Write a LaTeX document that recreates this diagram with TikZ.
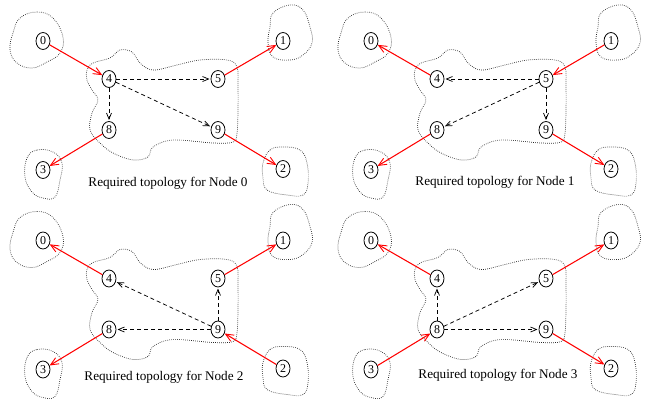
\documentclass[tikz,border=0pt]{standalone}
\usepackage{fontspec}
\setmainfont{Liberation Serif}
\usetikzlibrary{shapes.geometric,arrows.meta}
\tikzset{
  nd/.style={draw, ellipse, line width=0.8pt, minimum width=14pt, minimum height=17pt, inner sep=0pt, font=\fontsize{12}{13}\selectfont},
  blob/.style={line width=0.7pt, black!85, dash pattern=on 0.7pt off 1.3pt},
  redarr/.style={draw=red, line width=1.05pt, -{Straight Barb[length=8pt,width=7pt,line width=0.9pt]}},
  dasharr/.style={draw=black, line width=0.75pt, dash pattern=on 4pt off 3pt, -{Straight Barb[length=6pt,width=5pt,line width=0.75pt,sep]}},
  captext/.style={font=\fontsize{13.2}{15}\selectfont}
}
\newcommand\mypanel[3]{%
\begin{scope}[shift={(#1,#2)}]
  \draw[blob] plot[smooth cycle, tension=0.7] coordinates {(20,18) (37,12) (53,18) (63,37) (60,53) (47,62) (32,68) (17,63) (10,50) (13,33)};
  \draw[blob] plot[smooth cycle, tension=0.7] coordinates {(273,13) (290,5) (303,10) (310,27) (312,43) (303,55) (290,60) (273,57) (268,43) (270,27)};
  \draw[blob] plot[smooth cycle, tension=0.7] coordinates {(27,158) (37,150) (53,152) (62,163) (60,180) (55,197) (43,198) (32,192) (25,177)};
  \draw[blob] plot[smooth cycle, tension=0.7] coordinates {(263,163) (270,150) (283,147) (300,150) (307,163) (308,183) (303,195) (287,195) (267,190) (263,177)};
  \draw[blob] plot[smooth cycle, tension=0.6] coordinates {(87,70) (93,63) (110,58) (120,50) (132,52) (140,63) (153,70) (177,65) (200,60) (227,60) (237,67) (238,87) (238,110) (237,133) (233,142) (213,143) (173,140) (153,147) (148,157) (133,160) (113,153) (100,143) (90,130) (92,113) (98,100) (92,90) (87,80)};
  \node[nd] (#3-0) at (43,41) {0};
  \node[nd] (#3-1) at (283,41) {1};
  \node[nd] (#3-2) at (283,169) {2};
  \node[nd] (#3-3) at (43,170) {3};
  \node[nd] (#3-4) at (109,79) {4};
  \node[nd] (#3-5) at (218,79) {5};
  \node[nd] (#3-8) at (109,130) {8};
  \node[nd] (#3-9) at (218,130) {9};
\end{scope}}
\begin{document}
\begin{tikzpicture}[x=1pt,y=-1pt]
\useasboundingbox (0,0) rectangle (654,399);
\mypanel{0}{0}{A}
\mypanel{328}{0}{B}
\mypanel{0}{199.5}{C}
\mypanel{328}{199.5}{D}
% panel A
\draw[redarr] (A-0) -- (A-4);
\draw[redarr] (A-5) -- (A-1);
\draw[redarr] (A-8) -- (A-3);
\draw[redarr] (A-9) -- (A-2);
\draw[dasharr] (A-4) -- (A-5);
\draw[dasharr] (A-4) -- (A-9);
\draw[dasharr] (A-4) -- (A-8);
\node[captext] (capA) at (168,183) {Required topology for Node 0};
% panel B
\draw[redarr] (B-4) -- (B-0);
\draw[redarr] (B-1) -- (B-5);
\draw[redarr] (B-8) -- (B-3);
\draw[redarr] (B-9) -- (B-2);
\draw[dasharr] (B-5) -- (B-4);
\draw[dasharr] (B-5) -- (B-8);
\draw[dasharr] (B-5) -- (B-9);
\node[captext] (capB) at (495,182) {Required topology for Node 1};
% panel C
\draw[redarr] (C-4) -- (C-0);
\draw[redarr] (C-5) -- (C-1);
\draw[redarr] (C-8) -- (C-3);
\draw[redarr] (C-2) -- (C-9);
\draw[dasharr] (C-9) -- (C-4);
\draw[dasharr] (C-9) -- (C-5);
\draw[dasharr] (C-9) -- (C-8);
\node[captext] (capC) at (164,377) {Required topology for Node 2};
% panel D
\draw[redarr] (D-4) -- (D-0);
\draw[redarr] (D-5) -- (D-1);
\draw[redarr] (D-3) -- (D-8);
\draw[redarr] (D-9) -- (D-2);
\draw[dasharr] (D-8) -- (D-4);
\draw[dasharr] (D-8) -- (D-5);
\draw[dasharr] (D-8) -- (D-9);
\node[captext] (capD) at (498,375) {Required topology for Node 3};
\end{tikzpicture}
\end{document}
